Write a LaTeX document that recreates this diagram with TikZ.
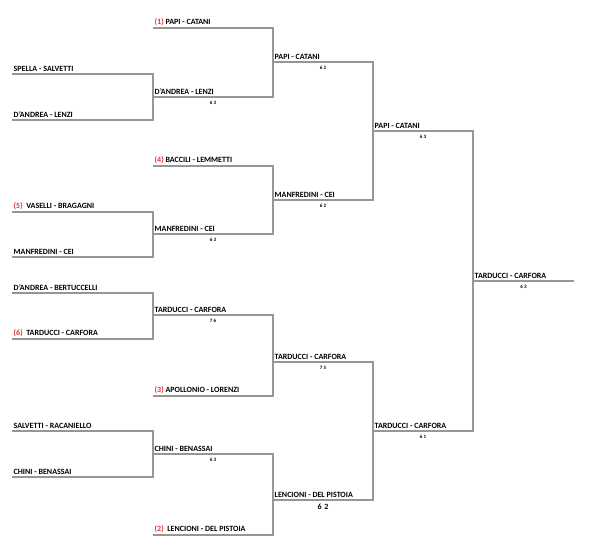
\documentclass[tikz,border=0pt]{standalone}
\usepackage{fontspec}
\setmainfont{Carlito}
\definecolor{linegray}{RGB}{150,150,150}
\definecolor{seedred}{RGB}{222,52,52}
\newcommand{\seed}[1]{\textcolor{seedred}{(#1)}}
\begin{document}
\begin{tikzpicture}[x=1pt,y=-1pt,
    line/.style={draw=linegray, line width=1.6pt},
    team/.style={anchor=south west, inner sep=0pt, xshift=1.5pt, yshift=2.5pt,
      font=\bfseries\fontsize{8}{9}\selectfont},
    score/.style={anchor=north, inner sep=0pt, yshift=-3.2pt,
      font=\bfseries\fontsize{5}{6}\selectfont},
    bigscore/.style={score, font=\bfseries\fontsize{8}{9}\selectfont}]
        \useasboundingbox (0,0) rectangle (599,546);

        % line ends, one round per column
        \foreach \y [count=\i] in {74,120,212,257,293,339,431,477}
          \coordinate (p0-\i) at (12,\y) coordinate (q0-\i) at (153,\y);
        \foreach \y [count=\i] in {28,97,166,234,315,396,454,535}
          \coordinate (p1-\i) at (153,\y) coordinate (q1-\i) at (273,\y);
        \foreach \y [count=\i] in {62,200,362,500}
          \coordinate (p2-\i) at (273,\y) coordinate (q2-\i) at (373,\y);
        \foreach \y [count=\i] in {131,431}
          \coordinate (p3-\i) at (373,\y) coordinate (q3-\i) at (473,\y);
        \coordinate (p4-1) at (473,281);
        \coordinate (q4-1) at (574,281);

        % first round
        \draw[line] (p0-1) -- (q0-1) -- (q0-2) -- (p0-2);
        \draw[line] (p0-3) -- (q0-3) -- (q0-4) -- (p0-4);
        \draw[line] (p0-5) -- (q0-5) -- (q0-6) -- (p0-6);
        \draw[line] (p0-7) -- (q0-7) -- (q0-8) -- (p0-8);

        % second round
        \draw[line] (p1-1) -- (q1-1) -- (q1-2) -- (p1-2) node[midway, score] (s1-2) {6 3};
        \draw[line] (p1-3) -- (q1-3) -- (q1-4) -- (p1-4) node[midway, score] (s1-4) {6 3};
        \draw[line] (p1-5) -- (q1-5) node[midway, score] (s1-5) {7 6} -- (q1-6) -- (p1-6);
        \draw[line] (p1-7) -- (q1-7) node[midway, score] (s1-7) {6 3} -- (q1-8) -- (p1-8);

        % quarter and semi
        \draw[line] (p2-1) -- (q2-1) node[midway, score] (s2-1) {6 2} -- (q2-2) -- (p2-2) node[midway, score] (s2-2) {6 2};
        \draw[line] (p2-3) -- (q2-3) node[midway, score] (s2-3) {7 5} -- (q2-4) -- (p2-4) node[midway, bigscore] (s2-4) {6\,\,2};
        \draw[line] (p3-1) -- (q3-1) node[midway, score] (s3-1) {6 3} -- (q3-2) -- (p3-2) node[midway, score] (s3-2) {6 1};

        % final
        \draw[line] (p4-1) -- (q4-1) node[midway, score] (s4-1) {6 3};

        \node[team] (t0-1) at (p0-1) {SPELLA - SALVETTI};
        \node[team] (t0-2) at (p0-2) {D'ANDREA - LENZI};
        \node[team] (t0-3) at (p0-3) {\seed{5}\ \ VASELLI - BRAGAGNI};
        \node[team] (t0-4) at (p0-4) {MANFREDINI - CEI};
        \node[team] (t0-5) at (p0-5) {D'ANDREA - BERTUCCELLI};
        \node[team] (t0-6) at (p0-6) {\seed{6}\ \ TARDUCCI - CARFORA};
        \node[team] (t0-7) at (p0-7) {SALVETTI - RACANIELLO};
        \node[team] (t0-8) at (p0-8) {CHINI - BENASSAI};

        \node[team] (t1-1) at (p1-1) {\seed{1} PAPI - CATANI};
        \node[team] (t1-2) at (p1-2) {D'ANDREA - LENZI};
        \node[team] (t1-3) at (p1-3) {\seed{4} BACCILI - LEMMETTI};
        \node[team] (t1-4) at (p1-4) {MANFREDINI - CEI};
        \node[team] (t1-5) at (p1-5) {TARDUCCI - CARFORA};
        \node[team] (t1-6) at (p1-6) {\seed{3} APOLLONIO - LORENZI};
        \node[team] (t1-7) at (p1-7) {CHINI - BENASSAI};
        \node[team] (t1-8) at (p1-8) {\seed{2}\ \ LENCIONI - DEL PISTOIA};

        \node[team] (t2-1) at (p2-1) {PAPI - CATANI};
        \node[team] (t2-2) at (p2-2) {MANFREDINI - CEI};
        \node[team] (t2-3) at (p2-3) {TARDUCCI - CARFORA};
        \node[team] (t2-4) at (p2-4) {LENCIONI - DEL PISTOIA};

        \node[team] (t3-1) at (p3-1) {PAPI - CATANI};
        \node[team] (t3-2) at (p3-2) {TARDUCCI - CARFORA};

        \node[team] (t4-1) at (p4-1) {TARDUCCI - CARFORA};
\end{tikzpicture}
\end{document}
